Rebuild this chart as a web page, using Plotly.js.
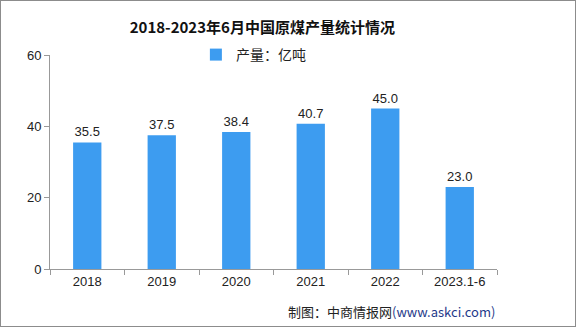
<!DOCTYPE html>
<html><head><meta charset="utf-8">
<script src="https://cdn.plot.ly/plotly-3.0.1.min.js"></script>
<style>html,body{margin:0;padding:0;background:#fff}#c{width:574px;height:325px;border:1px solid #8c8c8c}</style>
</head><body><div id="c"></div>
<script>
const categories = ["2018","2019","2020","2021","2022","2023.1-6"];
const values = [35.5,37.5,38.4,40.7,45.0,23.0];
const labels = values.map(v=>v.toFixed(1));
const seriesName = "产量：亿吨";
const trace = {type:"bar", x:categories, y:values, name:seriesName, marker:{color:"#3d9cf0"},
  width:0.38, text:labels, textposition:"outside", cliponaxis:false,
  textfont:{family:"Liberation Sans, DejaVu Sans",size:13,color:"#222"}};
const layout = {
  width:574, height:325, margin:{l:49,r:78,t:54,b:57},
  paper_bgcolor:"#fff", plot_bgcolor:"#fff",
  title:{text:"<b>2018-2023年6月中国原煤产量统计情况</b>", x:0.475, xref:"paper", xanchor:"center", y:0.935, yref:"container",
    font:{family:"Noto Sans CJK SC",size:15,color:"#111"}},
  showlegend:true,
  legend:{orientation:"h", x:0.455, xanchor:"center", y:1.0, yanchor:"middle", font:{family:"Noto Sans CJK SC",size:14,color:"#222"}, itemwidth:30},
  xaxis:{type:"category", showline:true, linecolor:"#999", ticks:"outside", tickson:"boundaries", ticklen:5, tickcolor:"#999",
    tickfont:{family:"Liberation Sans, DejaVu Sans",size:13,color:"#222"}, showgrid:false},
  yaxis:{range:[0,60], dtick:20, showline:true, linecolor:"#999", ticks:"outside", ticklen:5, tickcolor:"#999",
    showgrid:false, zeroline:false, tickfont:{family:"Liberation Sans, DejaVu Sans",size:13,color:"#222"}},
  bargap:0.62,
  annotations:[{xref:"paper", yref:"paper", x:1.0, y:-0.2, xanchor:"right", yanchor:"middle", showarrow:false,
    text:"制图：中商情报网<span style='color:#1f3a8a'>(www.askci.com)</span>",
    font:{family:"Noto Sans CJK SC",size:13,color:"#222"}}]
};
Plotly.newPlot("c",[trace],layout,{displayModeBar:false});
</script></body></html>
